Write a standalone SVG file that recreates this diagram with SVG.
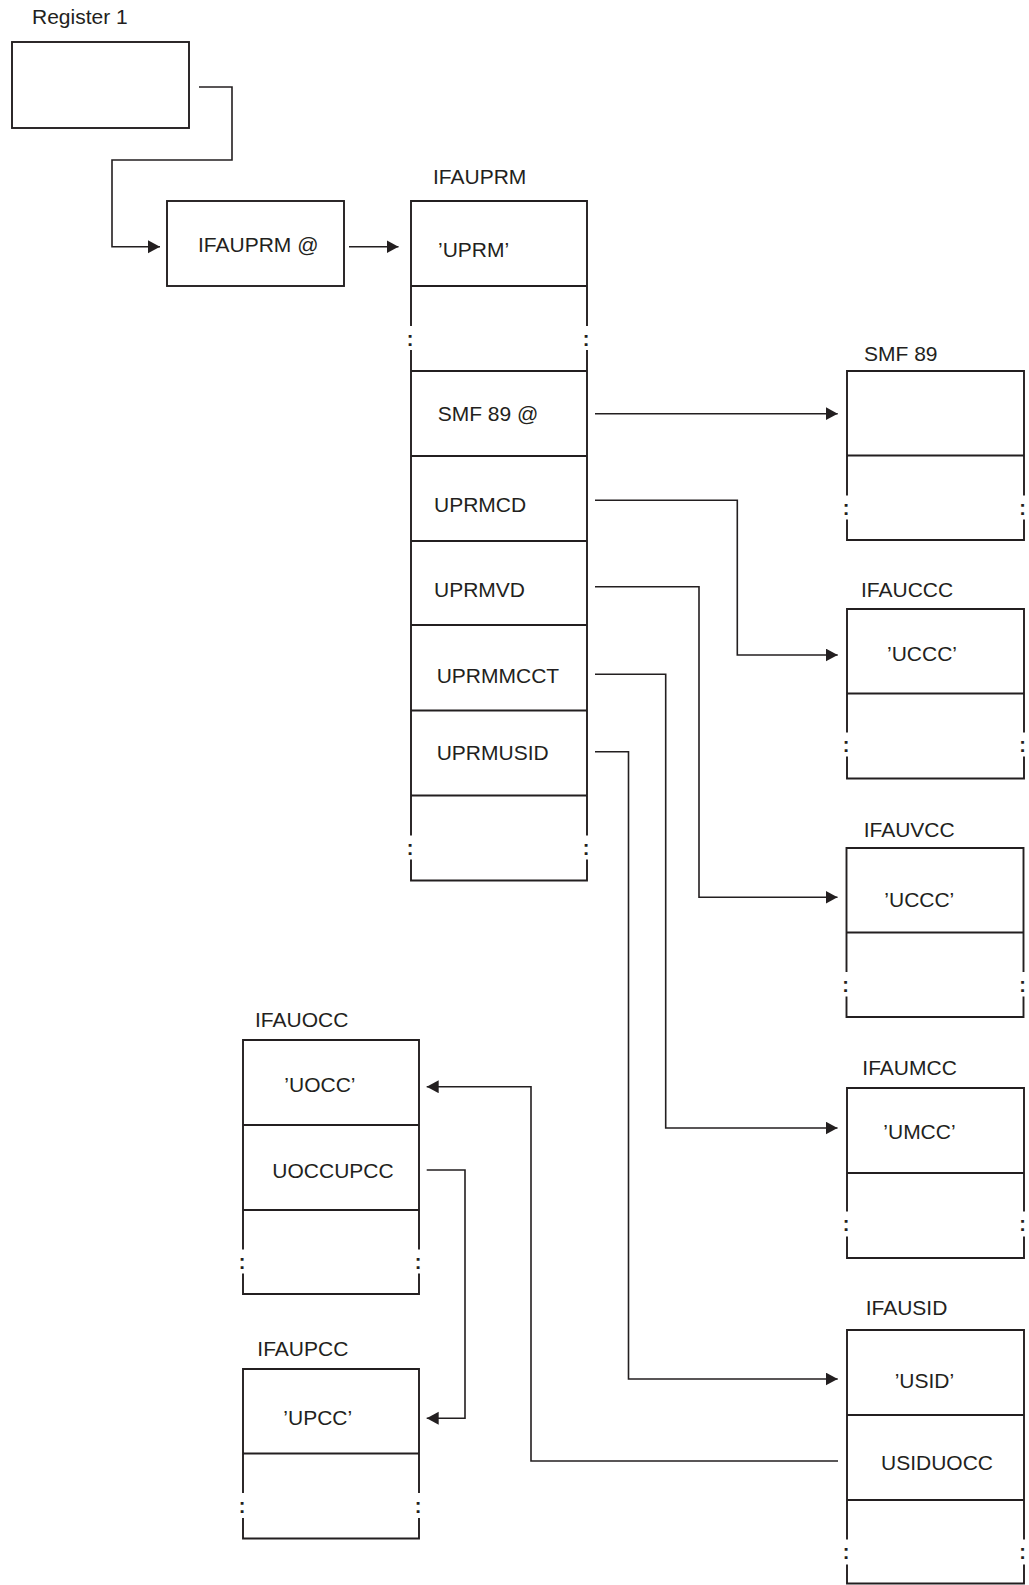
<svg xmlns="http://www.w3.org/2000/svg" width="1029" height="1585" viewBox="0 0 1029 1585">
<defs>
<style>
.bx{fill:none;stroke:#231f20;stroke-width:1.9}
.cn{fill:none;stroke:#231f20;stroke-width:1.6}
.arr{marker-end:url(#ah)}
text{font-family:"Liberation Sans",Arial,Helvetica,sans-serif;font-size:21px;fill:#231f20}
.col{font-size:20px;font-weight:bold;text-anchor:middle}
</style>
<marker id="ah" markerUnits="userSpaceOnUse" markerWidth="13" markerHeight="14" refX="12" refY="6.5" orient="auto">
<path d="M0,0 L12,6.5 L0,13 Z" fill="#231f20"/>
</marker>
</defs>
<rect width="1029" height="1585" fill="#fff"/>

<g id="connectors">
<path class="cn arr" d="M199,87 H232 V160 H112 V246.7 H160"/>
<path class="cn arr" d="M349,246.7 H398.5"/>
<path class="cn arr" d="M595,413.7 H837.7"/>
<path class="cn arr" d="M595,500.3 H737.3 V655 H837.7"/>
<path class="cn arr" d="M595,586.7 H699 V897.3 H837.5"/>
<path class="cn arr" d="M595,674.3 H665.7 V1128 H837.5"/>
<path class="cn arr" d="M595,751.7 H628.5 V1379 H837.7"/>
<path class="cn arr" d="M838,1461 H531 V1086.7 H426.7"/>
<path class="cn arr" d="M426.7,1170 H465 V1418.3 H426.7"/>
</g>

<g id="register1">
<text x="32" y="24">Register 1</text>
<rect class="bx" x="12" y="42" width="177" height="86"/>
</g>

<g id="ifauprm-ptr">
<rect class="bx" x="167" y="201" width="177" height="85"/>
<text x="198" y="252">IFAUPRM @</text>
</g>

<g id="ifauprm">
<text x="433" y="184">IFAUPRM</text>
<path class="bx" d="M411,326 V201 H587 V326 M411,286 H587 M411,350 V795.5 M587,350 V795.5 M411,371 H587 M411,456 H587 M411,541 H587 M411,625 H587 M411,710.5 H587 M411,795.5 H587 M411,795.5 V835.5 M587,795.5 V835.5 M411,859.5 V880.5 H587 V859.5"/>
<text class="col" x="410" y="345.5">:</text>
<text class="col" x="586" y="345.5">:</text>
<text class="col" x="410" y="855">:</text>
<text class="col" x="586" y="855">:</text>
<text x="438" y="256.5">’UPRM’</text>
<text x="437.7" y="421">SMF 89 @</text>
<text x="434" y="511.7">UPRMCD</text>
<text x="434" y="596.7">UPRMVD</text>
<text x="436.7" y="683.3">UPRMMCCT</text>
<text x="436.7" y="760">UPRMUSID</text>
</g>

<g id="smf89">
<text x="864" y="360.7">SMF 89</text>
<path class="bx" d="M847,455.5 V371 H1024 V455.5 Z M847,455.5 V495.5 M1024,455.5 V495.5 M847,519.5 V540 H1024 V519.5"/>
<text class="col" x="846" y="514.5">:</text>
<text class="col" x="1022.5" y="514.5">:</text>
</g>

<g id="ifauccc">
<text x="861" y="596.7">IFAUCCC</text>
<path class="bx" d="M847,693.5 V609 H1024 V693.5 Z M847,693.5 V732.5 M1024,693.5 V732.5 M847,756.5 V778.5 H1024 V756.5"/>
<text class="col" x="846" y="752">:</text>
<text class="col" x="1022.5" y="752">:</text>
<text x="887" y="661">’UCCC’</text>
</g>

<g id="ifauvcc">
<text x="863.7" y="836.7">IFAUVCC</text>
<path class="bx" d="M846.5,932.5 V848 H1023.5 V932.5 Z M846.5,932.5 V972 M1023.5,932.5 V972 M846.5,996.5 V1017 H1023.5 V996.5"/>
<text class="col" x="845.5" y="991.5">:</text>
<text class="col" x="1022.5" y="991.5">:</text>
<text x="884.3" y="906.7">’UCCC’</text>
</g>

<g id="ifaumcc">
<text x="862.3" y="1075">IFAUMCC</text>
<path class="bx" d="M847,1173 V1088 H1024 V1173 Z M847,1173 V1211.5 M1024,1173 V1211.5 M847,1236.5 V1258 H1024 V1236.5"/>
<text class="col" x="846" y="1231">:</text>
<text class="col" x="1022.5" y="1231">:</text>
<text x="883.3" y="1139">’UMCC’</text>
</g>

<g id="ifausid">
<text x="865.7" y="1315">IFAUSID</text>
<path class="bx" d="M847,1500 V1330 H1024 V1500 M847,1415 H1024 M847,1500 H1024 M847,1500 V1539.5 M1024,1500 V1539.5 M847,1564.5 V1583.5 H1024 V1564.5"/>
<text class="col" x="846" y="1559">:</text>
<text class="col" x="1022.5" y="1559">:</text>
<text x="894.7" y="1388.3">’USID’</text>
<text x="881" y="1470">USIDUOCC</text>
</g>

<g id="ifauocc">
<text x="255" y="1026.7">IFAUOCC</text>
<path class="bx" d="M243,1210 V1040 H419 V1210 M243,1125 H419 M243,1210 H419 M243,1210 V1249.5 M419,1210 V1249.5 M243,1273.5 V1294 H419 V1273.5"/>
<text class="col" x="242" y="1268.5">:</text>
<text class="col" x="418" y="1268.5">:</text>
<text x="284.3" y="1091.5">’UOCC’</text>
<text x="272.3" y="1178.3">UOCCUPCC</text>
</g>

<g id="ifaupcc">
<text x="257.3" y="1355.7">IFAUPCC</text>
<path class="bx" d="M243,1453.5 V1369 H419 V1453.5 Z M243,1453.5 V1493 M419,1453.5 V1493 M243,1518 V1538.5 H419 V1518"/>
<text class="col" x="242" y="1512.5">:</text>
<text class="col" x="418" y="1512.5">:</text>
<text x="283.3" y="1425">’UPCC’</text>
</g>
</svg>
